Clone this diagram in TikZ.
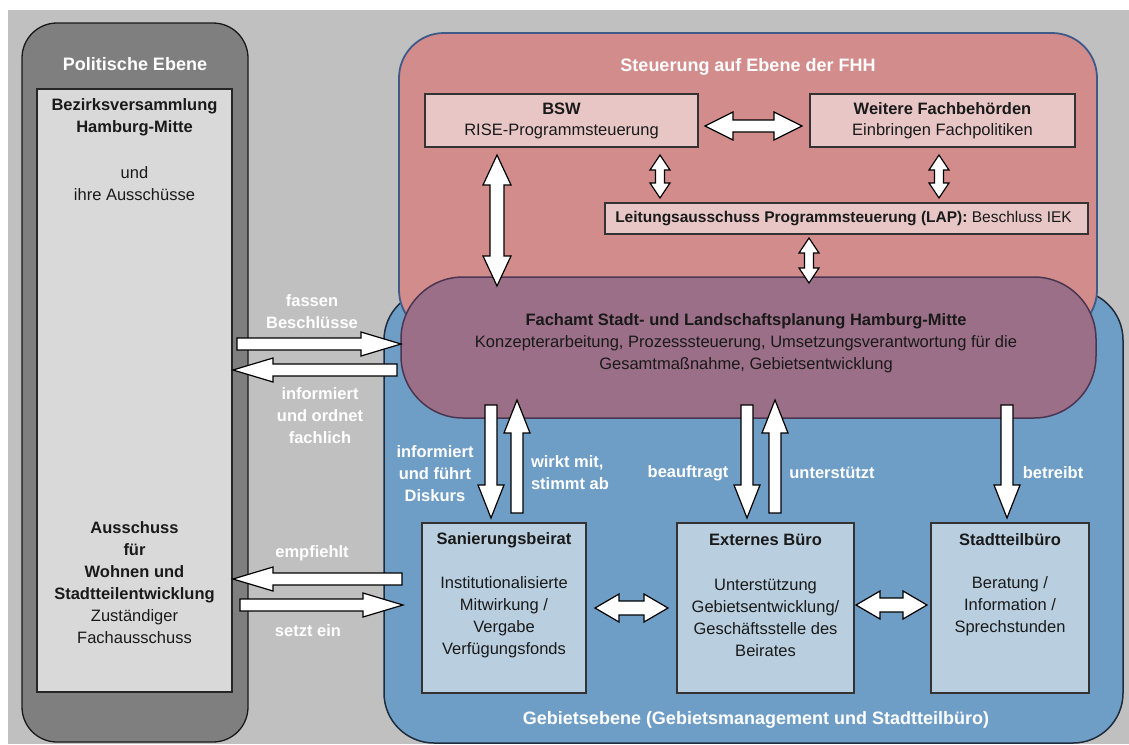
\documentclass[tikz,border=0pt]{standalone}
\usepackage{fontspec}
\setmainfont{Liberation Sans}
\usetikzlibrary{calc}
\definecolor{bgc}{HTML}{C0C0C0}
\definecolor{polc}{HTML}{7F7F7F}
\definecolor{polin}{HTML}{D9D9D9}
\definecolor{redc}{HTML}{D38C8C}
\definecolor{redb}{HTML}{3D5A88}
\definecolor{bluec}{HTML}{6E9DC5}
\definecolor{blueb}{HTML}{1E2C3E}
\definecolor{purc}{HTML}{9B6F87}
\definecolor{purb}{HTML}{4B3550}
\definecolor{pinkbox}{HTML}{E8C6C6}
\definecolor{lbbox}{HTML}{B9CFE0}
\definecolor{txt}{HTML}{1A1A1A}
\newcommand\blockarrow[5]{%
  \coordinate (bah) at ($(#2)!#5!(#1)$);
  \draw[blockarr] ($(#1)!#3!90:(#2)$) -- ($(bah)!#3!90:(#2)$) -- ($(bah)!#4!90:(#2)$) -- (#2)
    -- ($(bah)!#4!-90:(#2)$) -- ($(bah)!#3!-90:(#2)$) -- ($(#1)!#3!-90:(#2)$) -- cycle;}
\newcommand\dblarrow[5]{%
  \coordinate (bah) at ($(#2)!#5!(#1)$);
  \coordinate (bat) at ($(#1)!#5!(#2)$);
  \draw[blockarr] (#1) -- ($(bat)!#4!90:(#2)$) -- ($(bat)!#3!90:(#2)$) -- ($(bah)!#3!90:(#2)$)
    -- ($(bah)!#4!90:(#2)$) -- (#2) -- ($(bah)!#4!-90:(#2)$) -- ($(bah)!#3!-90:(#2)$)
    -- ($(bat)!#3!-90:(#2)$) -- ($(bat)!#4!-90:(#2)$) -- cycle;}
\tikzset{
  blockarr/.style={draw=black, fill=white, line width=1.2pt, line join=miter},
  every node/.style={inner sep=0pt, outer sep=0pt, text=txt, font=\fontsize{16.5}{22}\selectfont},
  boxr/.style={draw=black!80, line width=1.2pt, fill=pinkbox, anchor=north west},
  boxb/.style={draw=black!80, line width=1.2pt, fill=lbbox, anchor=north west},
  wlab/.style={text=white, align=center, font=\fontsize{16.5}{22}\selectfont\bfseries},
  ttl/.style={text=white, font=\fontsize{18}{22}\selectfont\bfseries},
  btxt/.style={align=center}
}
\begin{document}
\begin{tikzpicture}[x=1pt,y=-1pt]
\useasboundingbox (0,0) rectangle (1129,744);
\fill[white] (0,0) rectangle (1129,744);
\fill[bgc] (8,10) rectangle (1129,744);

% political level
\draw[fill=polc, draw=black!90, line width=1.3pt, rounded corners=35pt] (22,23) rectangle (248,742);
\node[ttl] (polt) at (135,64) {Politische Ebene};
\node[draw=black!85, line width=1.2pt, fill=polin, anchor=north west, minimum width=195pt, minimum height=603pt] (bv) at (37,89) {};
\node[btxt, font=\fontsize{16.5}{22}\selectfont\bfseries] (bvt) at (134.5,117) {Bezirksversammlung\\Hamburg-Mitte};
\node[btxt] (bvu) at (134.5,184) {und\\ihre Ausschüsse};
\node[btxt] (aus) at (134.5,582.5) {\textbf{Ausschuss}\\\textbf{für}\\\textbf{Wohnen und}\\\textbf{Stadtteilentwicklung}\\Zuständiger\\Fachausschuss};

% area level (blue)
\draw[fill=bluec, draw=blueb, line width=1.5pt, rounded corners=50pt] (384,290) rectangle (1123,743);
% FHH level (red)
\draw[fill=redc, draw=redb, line width=1.8pt, rounded corners=45pt] (399,33) rectangle (1097,335);
% Fachamt (purple)
\draw[fill=purc, draw=purb, line width=1.5pt, rounded corners=62pt] (401,277) rectangle (1096,418);

\node[ttl] (fhht) at (748,67) {Steuerung auf Ebene der FHH};
\node[boxr, minimum width=273pt, minimum height=53pt] (bsw) at (425,94) {};
\node[btxt] at (bsw.center) {\textbf{BSW}\\[-1pt]RISE-Programmsteuerung};
\node[boxr, minimum width=265pt, minimum height=53pt] (wf) at (810,94) {};
\node[btxt] at (wf.center) {\textbf{Weitere Fachbehörden}\\[-1pt]Einbringen Fachpolitiken};
\node[boxr, minimum width=483pt, minimum height=31pt] (lap) at (605,203) {};
\node[font=\fontsize{15.5}{20}\selectfont] at ($(lap.center)+(-3,0)$) {\textbf{Leitungsausschuss Programmsteuerung (LAP):} Beschluss IEK};

\node[btxt, text=black!90] (fa) at (746,343) {\textbf{Fachamt Stadt- und Landschaftsplanung Hamburg-Mitte}\\Konzepterarbeitung, Prozesssteuerung, Umsetzungsverantwortung für die\\Gesamtmaßnahme, Gebietsentwicklung};

% bottom boxes
\node[boxb, minimum width=164pt, minimum height=170pt] (sb) at (422,523) {};
\node[boxb, minimum width=177pt, minimum height=170pt] (eb) at (677,523) {};
\node[boxb, minimum width=158pt, minimum height=170pt] (stb) at (931,523) {};
\node[font=\fontsize{16.5}{22}\selectfont\bfseries] at (504,540) {Sanierungsbeirat};
\node[font=\fontsize{16.5}{22}\selectfont\bfseries] at (765.5,540) {Externes Büro};
\node[font=\fontsize{16.5}{22}\selectfont\bfseries] at (1010,540) {Stadtteilbüro};
\node[btxt] at (504,617.5) {Institutionalisierte\\Mitwirkung /\\Vergabe\\Verfügungsfonds};
\node[btxt] at (765.5,617.5) {Unterstützung\\Gebietsentwicklung/\\Geschäftsstelle des\\Beirates};
\node[btxt] at (1010,606) {Beratung /\\Information /\\Sprechstunden};
\node[ttl] (geb) at (756,720) {Gebietsebene (Gebietsmanagement und Stadtteilbüro)};

% arrows in red box
\coordinate (h1a) at (705,126); \coordinate (h1b) at (802,126);
\dblarrow{h1a}{h1b}{6pt}{14pt}{28pt}
\coordinate (v1a) at (660,155); \coordinate (v1b) at (660,198);
\dblarrow{v1a}{v1b}{4.5pt}{10pt}{15pt}
\coordinate (v2a) at (939,155); \coordinate (v2b) at (939,198);
\dblarrow{v2a}{v2b}{4.5pt}{10pt}{15pt}
\coordinate (v3a) at (809,238); \coordinate (v3b) at (809,283);
\dblarrow{v3a}{v3b}{4.5pt}{10pt}{15pt}
\coordinate (v4a) at (497,155); \coordinate (v4b) at (497,286);
\dblarrow{v4a}{v4b}{7pt}{14pt}{30pt}

% arrows purple <-> bottom
\coordinate (d1a) at (491,405); \coordinate (d1b) at (491,518);
\blockarrow{d1a}{d1b}{6pt}{13pt}{33pt}
\coordinate (u1a) at (517,513); \coordinate (u1b) at (517,400);
\blockarrow{u1a}{u1b}{6pt}{13pt}{33pt}
\coordinate (d2a) at (747,405); \coordinate (d2b) at (747,518);
\blockarrow{d2a}{d2b}{6pt}{13pt}{33pt}
\coordinate (u2a) at (775,513); \coordinate (u2b) at (775,400);
\blockarrow{u2a}{u2b}{6pt}{13pt}{33pt}
\coordinate (d3a) at (1007,405); \coordinate (d3b) at (1007,518);
\blockarrow{d3a}{d3b}{6pt}{13pt}{33pt}

% bottom horizontal arrows
\coordinate (b1a) at (595,608); \coordinate (b1b) at (668,608);
\dblarrow{b1a}{b1b}{7pt}{14pt}{24pt}
\coordinate (b2a) at (856,605); \coordinate (b2b) at (927,605);
\dblarrow{b2a}{b2b}{7pt}{14pt}{24pt}

% left arrows
\coordinate (l1a) at (237,344); \coordinate (l1b) at (401,344);
\blockarrow{l1a}{l1b}{6pt}{12pt}{40pt}
\coordinate (l2a) at (397,370); \coordinate (l2b) at (233,370);
\blockarrow{l2a}{l2b}{6pt}{12pt}{40pt}
\coordinate (l3a) at (402,579); \coordinate (l3b) at (233,579);
\blockarrow{l3a}{l3b}{6pt}{12pt}{40pt}
\coordinate (l4a) at (240,605); \coordinate (l4b) at (403,605);
\blockarrow{l4a}{l4b}{6pt}{12pt}{40pt}

% white labels
\node[wlab] at (312,311.5) {fassen\\Beschlüsse};
\node[wlab] at (320,416) {informiert\\und ordnet\\fachlich};
\node[wlab] at (312,553) {empfiehlt};
\node[wlab] at (308,631) {setzt ein};
\node[wlab] at (435,473.5) {informiert\\und führt\\Diskurs};
\node[wlab, align=left, anchor=west] at (531,473) {wirkt mit,\\stimmt ab};
\node[wlab] at (688,473) {beauftragt};
\node[wlab] at (832,473) {unterstützt};
\node[wlab] at (1053,473) {betreibt};
\end{tikzpicture}
\end{document}
